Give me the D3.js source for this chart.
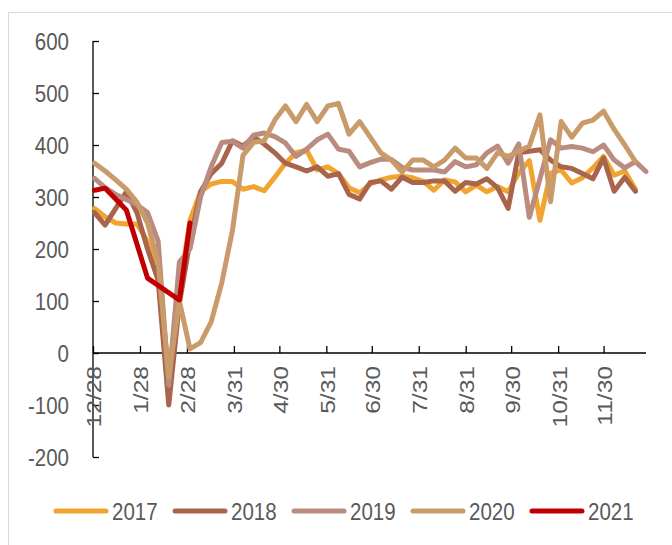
<!DOCTYPE html>
<html><head><meta charset="utf-8">
<script src="https://cdn.jsdelivr.net/npm/d3@7"></script>
<style>
html,body{margin:0;padding:0;background:#fff;}
svg{display:block;}
text{font-family:"Liberation Sans",Arial,sans-serif;fill:#595959;}
</style></head>
<body>
<svg id="chart" width="672" height="545"></svg>
<script>
// ---- data ----
const weeks = ["12/29","1/5","1/12","1/19","1/26","2/2","2/9","2/16","2/23","3/2","3/9","3/16","3/23","3/30",
 "4/6","4/13","4/20","4/27","5/4","5/11","5/18","5/25","6/1","6/8","6/15","6/22","6/29","7/6","7/13","7/20","7/27",
 "8/3","8/10","8/17","8/24","8/31","9/7","9/14","9/21","9/28","10/5","10/12","10/19","10/26","11/2","11/9","11/16",
 "11/23","11/30","12/7","12/14","12/21","12/28"];
const tickLabels = ["12/28","1/28","2/28","3/31","4/30","5/31","6/30","7/31","8/31","9/30","10/31","11/30"];
const yTicks = [-200,-100,0,100,200,300,400,500,600];
const seriesNames = ["2017","2018","2019","2020","2021"];
const s2017 = [278,262,250,248,248,215,150,-40,120,255, 310,325,330,330,315,320,312,338,365,385,
  390,352,358,345,318,308,325,333,338,340, 337,330,313,333,329,310,323,310,320,310,
  346,370,255,346,352,327,337,356,378,342, 350,315];
const s2018 = [270,246,278,310,270,200,140,-100,95,215, 310,345,365,408,398,415,402,385,365,358,
  350,358,340,345,305,296,328,331,315,338, 328,328,331,331,311,328,325,335,318,278,
  385,388,391,371,358,355,345,335,375,311, 338,311];
const s2019 = [336,318,305,295,285,270,215,-62,175,200, 300,358,405,407,394,419,423,416,404,378,
  392,410,421,392,388,358,366,373,372,357, 352,352,352,348,368,358,362,385,398,365,
  402,261,335,410,394,397,394,387,400,371, 356,368,349];
const s2020 = [365,350,333,315,290,250,175,-46,100,8, 20,60,135,235,380,405,408,448,475,445,
  478,445,475,480,421,445,415,385,371,348, 371,371,358,371,394,375,375,355,385,378,
  388,398,458,291,445,415,442,448,465,430, 400,368];
const s2021 = [313,317,null,275,null,144,null,null,102,250];
const colors = ["#F2A431","#A8654B","#BA8C80","#C99A6A","#C00000"];

// ---- layout ----
const svg = d3.select("#chart");
const parseWeek = (s, i) => { const [m,d] = s.split("/").map(Number); return new Date((m===12 && i<10)?2020:2021, m-1, d); };
const x = d3.scaleTime().domain([new Date(2020,11,28), new Date(2021,11,28)]).range([93, 646]);
const y = d3.scaleLinear().domain([-200, 600]).range([457, 41]);
const weekDates = weeks.map(parseWeek);
const tickDates = tickLabels.map(parseWeek);

// border
svg.append("rect").attr("x",8.5).attr("y",12.5).attr("width",700).attr("height",600)
  .attr("fill","none").attr("stroke","#D9D9D9").attr("stroke-width",1);

// y axis
const gy = svg.append("g").attr("transform","translate(93,0)");
gy.call(d3.axisRight(y).tickValues(yTicks).tickSize(6).tickFormat(""));
gy.select(".domain").attr("d", `M0,${y(-200)}V${y(600)}`);
gy.selectAll("line,path").attr("stroke","#000").attr("stroke-width",1.3);
svg.append("g").selectAll("text").data(yTicks).join("text")
  .attr("transform", d => `translate(69,${y(d)}) scale(1,1.2)`)
  .attr("text-anchor","end").attr("dy","0.36em").attr("font-size",20.5).text(d => d);

// x axis
const gx = svg.append("g").attr("transform",`translate(0,${y(0)})`);
gx.call(d3.axisTop(x).tickValues(tickDates).tickSize(7).tickFormat(""));
gx.select(".domain").attr("d", `M${x.range()[0]},0H${x.range()[1]}`);
gx.selectAll("line,path").attr("stroke","#000").attr("stroke-width",1.3);
svg.append("g").selectAll("text").data(tickDates).join("text")
  .attr("transform", d => `translate(${x(d)+1},366) rotate(-90) scale(1.2,1)`)
  .attr("text-anchor","end").attr("dy","0.36em").attr("font-size",20.5)
  .text((d,i) => tickLabels[i]);

// lines
const allSeries = [s2017, s2018, s2019, s2020, s2021];
const line = d3.line().x(d => x(d.date)).y(d => y(d.v)).curve(d3.curveLinear);
allSeries.forEach((s, k) => {
  const pts = s.map((v,i) => ({date: weekDates[i], v})).filter(p => p.v !== null && p.v !== undefined);
  svg.append("path").datum(pts).attr("d", line)
    .attr("fill","none").attr("stroke", colors[k]).attr("stroke-width", 5)
    .attr("stroke-linejoin","round").attr("stroke-linecap","round");
});

// legend
const lg = svg.append("g").attr("transform","translate(0,511)");
seriesNames.forEach((n, k) => {
  const x0 = 56 + k*119;
  lg.append("line").attr("x1",x0).attr("x2",x0+50).attr("y1",0).attr("y2",0)
    .attr("stroke",colors[k]).attr("stroke-width",5).attr("stroke-linecap","round");
  lg.append("text").attr("transform",`translate(${x0+56},0) scale(1,1.2)`)
    .attr("dy","0.36em").attr("font-size",20.5).text(n);
});
</script>
</body></html>
